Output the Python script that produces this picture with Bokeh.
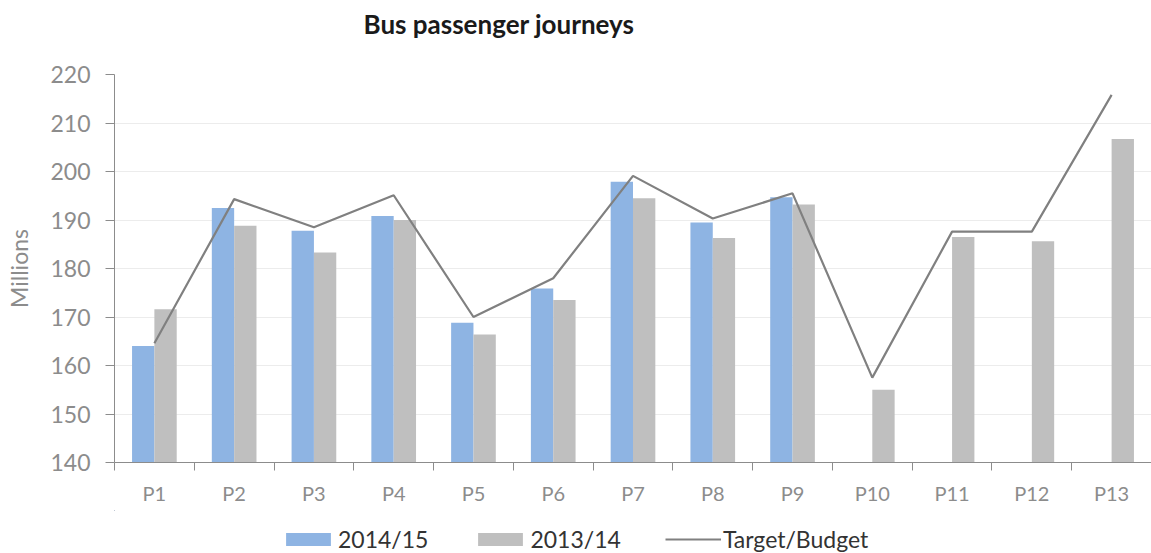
import numpy as np
from bokeh.plotting import figure
from bokeh.layouts import column
from bokeh.models import FixedTicker, Legend, LegendItem, ColumnDataSource, Range1d, Label
from bokeh.embed import file_html
from bokeh.resources import INLINE

title_text = "Bus passenger journeys"
periods = ["P1", "P2", "P3", "P4", "P5", "P6", "P7", "P8", "P9", "P10", "P11", "P12", "P13"]
y2014_15 = [164.0, 192.5, 187.8, 190.8, 168.8, 175.9, 197.9, 189.5, 194.7]
y2013_14 = [171.6, 188.8, 183.3, 190.0, 166.4, 173.5, 194.5, 186.3, 193.2, 155.0, 186.5, 185.6, 206.7]
target = [164.6, 194.3, 188.5, 195.1, 170.0, 178.0, 199.1, 190.3, 195.5, 157.5, 187.6, 187.6, 215.8]
y_ticks = [140, 150, 160, 170, 180, 190, 200, 210, 220]
series_names = ["2014/15", "2013/14", "Target/Budget"]

FONT = "Lato"
BLUE = "#8EB4E3"
GREY = "#BFBFBF"
LINE = "#808080"
AXIS = "#8c8c8c"

pos = np.arange(1, len(periods) + 1)
ymin, ymax = y_ticks[0], y_ticks[-1]

W = 1151

# Title strip
tf = figure(width=W, height=48, x_range=Range1d(0, 1), y_range=Range1d(0, 1), title=None,
            output_backend="svg", toolbar_location=None, x_axis_type=None, y_axis_type=None,
            min_border_left=0, min_border_right=0, min_border_top=0, min_border_bottom=0)
tf.outline_line_color = None
tf.xgrid.grid_line_color = None
tf.ygrid.grid_line_color = None
tf.add_layout(Label(x=249, y=25, x_units="screen", y_units="screen", text=title_text,
                    text_font=FONT, text_font_size="26px", text_font_style="bold",
                    text_color="#1a1a1a", text_align="left", text_baseline="middle"))

# Main chart
p = figure(width=W, height=462, x_range=Range1d(0.5, len(periods) + 0.5), title=None,
           y_range=Range1d(ymin, ymax), output_backend="svg", toolbar_location=None,
           min_border_left=114, min_border_right=0, min_border_top=26, min_border_bottom=48)
p.outline_line_color = None

src_a = ColumnDataSource(dict(x=pos[:len(y2014_15)] - 0.14, top=y2014_15))
src_b = ColumnDataSource(dict(x=pos + 0.14, top=y2013_14))
src_t = ColumnDataSource(dict(x=pos, y=target))

p.vbar(x="x", top="top", bottom=ymin, width=0.28, source=src_a, fill_color=BLUE, line_color=None)
p.vbar(x="x", top="top", bottom=ymin, width=0.28, source=src_b, fill_color=GREY, line_color=None)
p.line(x="x", y="y", source=src_t, line_color=LINE, line_width=2.2)

# x axis
xa = p.xaxis[0]
xa.ticker = FixedTicker(ticks=list(pos), minor_ticks=list(np.arange(0.5, len(periods) + 1, 1.0)))
xa.major_label_overrides = {int(i): s for i, s in zip(pos, periods)}
xa.major_tick_out = 0
xa.major_tick_in = 0
xa.minor_tick_out = 8
xa.minor_tick_in = 0
xa.minor_tick_line_color = AXIS
xa.axis_line_color = AXIS
xa.major_label_text_font = FONT
xa.major_label_text_font_size = "20px"
xa.major_label_text_color = AXIS
xa.major_label_standoff = 10

# y axis
ya = p.yaxis[0]
ya.ticker = FixedTicker(ticks=y_ticks)
ya.major_tick_out = 9
ya.major_tick_in = 0
ya.minor_tick_out = 0
ya.minor_tick_in = 0
ya.major_tick_line_color = AXIS
ya.axis_line_color = AXIS
ya.major_label_text_font = FONT
ya.major_label_text_font_size = "23px"
ya.major_label_text_color = AXIS
ya.major_label_standoff = 15
ya.axis_label = "Millions"
ya.axis_label_text_font = FONT
ya.axis_label_text_font_size = "23px"
ya.axis_label_text_font_style = "normal"
ya.axis_label_text_color = AXIS
ya.axis_label_standoff = 14

p.xgrid.grid_line_color = None
p.ygrid.grid_line_color = "#ececec"
p.ygrid.grid_line_width = 1

# Legend strip below the chart (its glyphs reuse the series data, kept outside the strip's ranges)
lf = figure(width=W, height=43, x_range=Range1d(50, 51), y_range=Range1d(0, 1), title=None,
            output_backend="svg", toolbar_location=None, x_axis_type=None, y_axis_type=None,
            min_border_left=0, min_border_right=0, min_border_top=0, min_border_bottom=0)
lf.outline_line_color = None
lf.xgrid.grid_line_color = None
lf.ygrid.grid_line_color = None
g1 = lf.vbar(x="x", top="top", bottom=ymin, width=0.28, source=src_a, fill_color=BLUE, line_color=None)
g2 = lf.vbar(x="x", top="top", bottom=ymin, width=0.28, source=src_b, fill_color=GREY, line_color=None)
g3 = lf.line(x="x", y="y", source=src_t, line_color=LINE, line_width=2.2)

legend = Legend(items=[LegendItem(label=series_names[0], renderers=[g1]),
                       LegendItem(label=series_names[1], renderers=[g2]),
                       LegendItem(label=series_names[2], renderers=[g3])],
                orientation="horizontal", location=(166, 0),
                glyph_width=56, glyph_height=16, label_standoff=2, spacing=44,
                padding=0, margin=0, border_line_color=None, background_fill_alpha=0,
                label_text_font=FONT, label_text_font_size="23px", label_text_color="#333333")
lf.add_layout(legend, "center")

layout = column(tf, p, lf, spacing=0)
open("out.html", "w").write(file_html(layout, INLINE))
